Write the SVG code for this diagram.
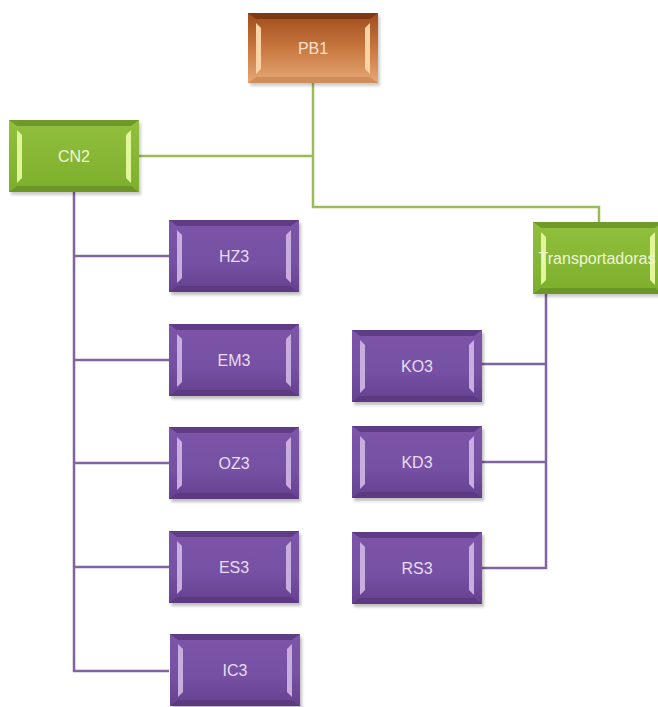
<svg xmlns="http://www.w3.org/2000/svg" xmlns:xlink="http://www.w3.org/1999/xlink" width="658" height="707" viewBox="0 0 658 707">
<defs>
<style>
.lbl{font-family:"Liberation Sans",Arial,sans-serif;font-size:16px;text-anchor:middle}
.lp{fill:#e8ddf3}
.lg{fill:#eef6d6}
.lo{fill:#f6e2d2}
.cg{fill:none;stroke:#9bbb59;stroke-width:2.5}
.cp{fill:none;stroke:#8064a2;stroke-width:2.5}
</style>
<filter id="sh" x="-10%" y="-10%" width="125%" height="135%"><feGaussianBlur stdDeviation="1.5"/></filter>
<linearGradient id="gp" x1="0" y1="0" x2="0" y2="1"><stop offset="0" stop-color="#7d55a9"/><stop offset="0.6" stop-color="#7550a3"/><stop offset="1" stop-color="#66418f"/></linearGradient>
<linearGradient id="gg" x1="0" y1="0" x2="0" y2="1"><stop offset="0" stop-color="#92c03e"/><stop offset="1" stop-color="#7cae2c"/></linearGradient>
<linearGradient id="go" x1="0" y1="0" x2="0" y2="1"><stop offset="0" stop-color="#a04c1c"/><stop offset="0.5" stop-color="#c8773f"/><stop offset="1" stop-color="#e6a877"/></linearGradient>
<symbol id="bp" overflow="visible">
<rect x="2" y="3" width="130" height="72" fill="#000" opacity="0.25" filter="url(#sh)"/>
<rect width="130" height="72" fill="url(#gp)"/>
<polygon points="0,0 130,0 122,6 8,6" fill="#5e3c86"/>
<polygon points="0,72 130,72 122,66 8,66" fill="#5b3a82"/>
<polygon points="8,10 13,15 13,58 8,63" fill="#c9addf"/>
<polygon points="122,10 117,15 117,58 122,63" fill="#c9addf"/>
</symbol>
<symbol id="bg" overflow="visible">
<rect x="2" y="3" width="130" height="72" fill="#000" opacity="0.2" filter="url(#sh)"/>
<rect width="130" height="72" fill="url(#gg)"/>
<polygon points="0,0 130,0 122,6 8,6" fill="#6f9a2a"/>
<polygon points="0,72 130,72 122,66 8,66" fill="#6c9628"/>
<polygon points="8,10 13,15 13,58 8,63" fill="#e1f59a"/>
<polygon points="122,10 117,15 117,58 122,63" fill="#e1f59a"/>
</symbol>
<symbol id="bo" overflow="visible">
<rect x="2" y="3" width="130" height="70" fill="#000" opacity="0.2" filter="url(#sh)"/>
<rect width="130" height="70" fill="url(#go)"/>
<polygon points="0,0 130,0 122,6 8,6" fill="#7e3a14"/>
<polygon points="0,70 130,70 122,64 8,64" fill="#d08d5c"/>
<polygon points="8,10 13,15 13,56 8,61" fill="#fbd3a4"/>
<polygon points="122,10 117,15 117,56 122,61" fill="#fbd3a4"/>
</symbol>
</defs>
<rect width="658" height="707" fill="#ffffff"/>
<g id="connectors">
<polyline class="cg" points="313,83 313,207 599,207 599,223"/>
<line class="cg" x1="139" y1="156" x2="313" y2="156"/>
<polyline class="cp" points="74,192 74,671 169,671"/>
<line class="cp" x1="74" y1="256" x2="169" y2="256"/>
<line class="cp" x1="74" y1="360" x2="169" y2="360"/>
<line class="cp" x1="74" y1="463" x2="169" y2="463"/>
<line class="cp" x1="74" y1="567" x2="169" y2="567"/>
<polyline class="cp" points="546,294 546,568 482,568"/>
<line class="cp" x1="482" y1="364" x2="546" y2="364"/>
<line class="cp" x1="482" y1="462" x2="546" y2="462"/>
</g>
<g id="PB1"><use xlink:href="#bo" x="248" y="13"/><text class="lbl lo" x="313" y="54">PB1</text></g>
<g id="CN2"><use xlink:href="#bg" x="9" y="120"/><text class="lbl lg" x="74" y="162">CN2</text></g>
<g id="Transportadoras"><use xlink:href="#bg" x="533" y="222"/><text class="lbl lg" x="597" y="264">Transportadoras</text></g>
<g id="HZ3"><use xlink:href="#bp" x="169" y="220"/><text class="lbl lp" x="234" y="262">HZ3</text></g>
<g id="EM3"><use xlink:href="#bp" x="169" y="324"/><text class="lbl lp" x="234" y="366">EM3</text></g>
<g id="OZ3"><use xlink:href="#bp" x="169" y="427"/><text class="lbl lp" x="234" y="469">OZ3</text></g>
<g id="ES3"><use xlink:href="#bp" x="169" y="531"/><text class="lbl lp" x="234" y="573">ES3</text></g>
<g id="IC3"><use xlink:href="#bp" x="170" y="634"/><text class="lbl lp" x="235" y="676">IC3</text></g>
<g id="KO3"><use xlink:href="#bp" x="352" y="330"/><text class="lbl lp" x="417" y="372">KO3</text></g>
<g id="KD3"><use xlink:href="#bp" x="352" y="426"/><text class="lbl lp" x="417" y="468">KD3</text></g>
<g id="RS3"><use xlink:href="#bp" x="352" y="532"/><text class="lbl lp" x="417" y="574">RS3</text></g>
</svg>
